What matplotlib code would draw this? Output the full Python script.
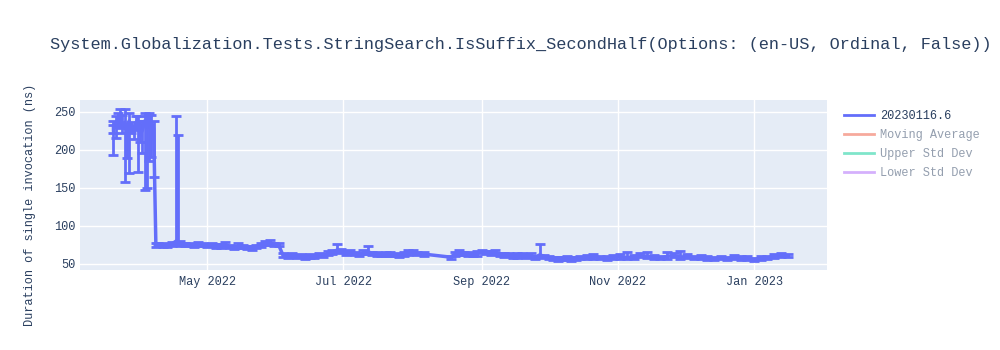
import matplotlib
matplotlib.use('Agg')
import matplotlib.pyplot as plt
import matplotlib.dates as mdates
from matplotlib.lines import Line2D
import pandas as pd

title = 'System.Globalization.Tests.StringSearch.IsSuffix_SecondHalf(Options: (en-US, Ordinal, False))'
series_name = '20230116.6'
ylabel = 'Duration of single invocation (ns)'

# early runs, high and noisy
early_dates = ['2022-03-20', '2022-03-20', '2022-03-21', '2022-03-22', '2022-03-23',
               '2022-03-24', '2022-03-25', '2022-03-26', '2022-03-27', '2022-03-28',
               '2022-03-29', '2022-03-30', '2022-03-31', '2022-04-01', '2022-04-02',
               '2022-04-03', '2022-04-04', '2022-04-05', '2022-04-06', '2022-04-07']
early_vals = [226, 230, 234, 238, 241, 232, 236, 224, 238, 228,
              222, 236, 232, 220, 226, 238, 230, 240, 236, 228]
early_down = [4, 37, 19, 8, 12, 10, 78, 35, 69, 6,
              8, 10, 61, 10, 30, 91, 80, 55, 45, 64]
early_up = [6, 8, 10, 10, 12, 14, 17, 8, 10, 8,
            10, 8, 12, 18, 12, 10, 14, 8, 10, 10]

# april to early june, around 75 ns
spring_dates = ['2022-04-08', '2022-04-09', '2022-04-11', '2022-04-13', '2022-04-15',
                '2022-04-17', '2022-04-18', '2022-04-19', '2022-04-21', '2022-04-23',
                '2022-04-25', '2022-04-27', '2022-04-29', '2022-05-01', '2022-05-03',
                '2022-05-05', '2022-05-07', '2022-05-09', '2022-05-11', '2022-05-13',
                '2022-05-15', '2022-05-17', '2022-05-19', '2022-05-21', '2022-05-23',
                '2022-05-25', '2022-05-27', '2022-05-29', '2022-05-31', '2022-06-02']
spring_vals = [74, 76, 75, 74, 76, 80, 78, 77, 76, 75,
               74, 76, 75, 74, 75, 73, 74, 76, 73, 72,
               74, 73, 72, 71, 73, 75, 77, 78, 76, 75]
spring_down = [2, 2, 3, 2, 2, 3, 2, 3, 2, 2,
               2, 3, 2, 2, 2, 2, 3, 2, 2, 2,
               3, 2, 2, 2, 2, 3, 2, 3, 2, 2]
spring_up = [3, 2, 3, 2, 3, 165, 141, 3, 2, 3,
             2, 3, 3, 2, 2, 3, 2, 3, 2, 2,
             3, 2, 2, 3, 2, 3, 3, 3, 2, 3]

# june to early august, around 63 ns
summer_dates = ['2022-06-04', '2022-06-06', '2022-06-08', '2022-06-10', '2022-06-12',
                '2022-06-14', '2022-06-16', '2022-06-18', '2022-06-20', '2022-06-22',
                '2022-06-24', '2022-06-26', '2022-06-28', '2022-06-30', '2022-07-02',
                '2022-07-04', '2022-07-06', '2022-07-08', '2022-07-10', '2022-07-12',
                '2022-07-14', '2022-07-16', '2022-07-18', '2022-07-20', '2022-07-22',
                '2022-07-24', '2022-07-26', '2022-07-28', '2022-07-30', '2022-08-01',
                '2022-08-03', '2022-08-06']
summer_vals = [61, 60, 62, 60, 61, 59, 61, 60, 62, 61,
               64, 66, 68, 67, 65, 66, 64, 63, 65, 66,
               64, 63, 62, 64, 63, 62, 61, 63, 65, 66,
               64, 63]
summer_down = [2, 2, 3, 2, 2, 2, 3, 2, 2, 2,
               2, 3, 2, 2, 3, 2, 2, 2, 2, 3,
               2, 2, 2, 3, 2, 2, 2, 2, 3, 2,
               2, 2]
summer_up = [3, 2, 3, 2, 2, 3, 2, 2, 3, 2,
             3, 3, 8, 3, 2, 3, 2, 2, 3, 8,
             2, 3, 2, 2, 3, 2, 2, 3, 3, 3,
             2, 3]

# mid august to mid january, around 58-64 ns
fall_dates = ['2022-08-18', '2022-08-20', '2022-08-22', '2022-08-24', '2022-08-26',
              '2022-08-28', '2022-08-30', '2022-09-01', '2022-09-03', '2022-09-05',
              '2022-09-07', '2022-09-09', '2022-09-11', '2022-09-13', '2022-09-15',
              '2022-09-17', '2022-09-19', '2022-09-21', '2022-09-23', '2022-09-25',
              '2022-09-27', '2022-09-29', '2022-10-01', '2022-10-03', '2022-10-05',
              '2022-10-07', '2022-10-09', '2022-10-11', '2022-10-13', '2022-10-15',
              '2022-10-18', '2022-10-21', '2022-10-24', '2022-10-27', '2022-10-30',
              '2022-11-02', '2022-11-05', '2022-11-08', '2022-11-11', '2022-11-14',
              '2022-11-17', '2022-11-20', '2022-11-23', '2022-11-26', '2022-11-29',
              '2022-12-02', '2022-12-05', '2022-12-08', '2022-12-11', '2022-12-14',
              '2022-12-17', '2022-12-20', '2022-12-23', '2022-12-26', '2022-12-29',
              '2023-01-01', '2023-01-04', '2023-01-07', '2023-01-10', '2023-01-13',
              '2023-01-16']
fall_vals = [59, 63, 65, 64, 63, 62, 64, 66, 65, 64,
             66, 63, 61, 62, 60, 61, 62, 60, 61, 59,
             62, 60, 58, 57, 56, 57, 58, 56, 57, 58,
             59, 60, 58, 57, 59, 60, 58, 59, 61, 60,
             59, 58, 60, 61, 59, 60, 58, 59, 58, 57,
             58, 57, 59, 58, 57, 56, 57, 58, 60, 62,
             61]
fall_down = [2, 2, 3, 2, 2, 2, 3, 2, 2, 2,
             3, 2, 2, 2, 2, 3, 2, 2, 2, 2,
             3, 2, 2, 2, 2, 2, 3, 2, 2, 2,
             2, 3, 2, 2, 2, 3, 2, 2, 2, 2,
             2, 2, 3, 2, 2, 2, 2, 2, 3, 2,
             2, 2, 2, 3, 2, 2, 2, 2, 2, 3,
             2]
fall_up = [2, 3, 3, 2, 3, 2, 3, 3, 2, 3,
           3, 2, 3, 2, 2, 3, 2, 2, 3, 2,
           14, 2, 3, 2, 3, 2, 2, 3, 2, 3,
           3, 3, 2, 3, 3, 3, 8, 3, 3, 6,
           3, 2, 6, 3, 8, 3, 2, 3, 3, 2,
           3, 2, 3, 2, 3, 2, 3, 3, 3, 3,
           2]

dates = pd.to_datetime(early_dates + spring_dates + summer_dates + fall_dates)
vals = early_vals + spring_vals + summer_vals + fall_vals
err_down = early_down + spring_down + summer_down + fall_down
err_up = early_up + spring_up + summer_up + fall_up

legend_labels = ['Moving Average', 'Upper Std Dev', 'Lower Std Dev']
legend_colors = ['#EF553B', '#00CC96', '#AB63FA']

mono = 'Liberation Mono'
text_col = '#2a3f5f'


def main():
    fig = plt.figure(figsize=(10, 3.5), dpi=100)
    ax = fig.add_axes([0.08, 1 - 270 / 350, 0.747, 170 / 350])
    ax.set_facecolor('#E5ECF6')
    for s in ax.spines.values():
        s.set_visible(False)

    ax.errorbar(dates, vals, yerr=[err_down, err_up], fmt='-', color='#636EFA',
                lw=2.5, elinewidth=2, capsize=3.5, capthick=2, ecolor='#636EFA', zorder=3)

    ax.set_xlim(pd.Timestamp('2022-03-05'), pd.Timestamp('2023-02-02 16:00'))
    ax.set_ylim(42.1, 265.4)
    ax.set_yticks([50, 100, 150, 200, 250])
    ax.set_xticks(pd.to_datetime(['2022-05-01', '2022-07-01', '2022-09-01',
                                  '2022-11-01', '2023-01-01']))
    ax.xaxis.set_major_formatter(mdates.DateFormatter('%b %Y'))
    ax.grid(True, color='white', lw=1, zorder=0)
    ax.set_axisbelow(True)
    ax.tick_params(length=0, labelsize=8.6, labelcolor=text_col)
    ax.tick_params(axis='x', pad=4)
    ax.tick_params(axis='y', pad=3)
    for lab in ax.get_xticklabels() + ax.get_yticklabels():
        lab.set_family(mono)

    fig.text(0.05, 1 - 45 / 350, title, family=mono, fontsize=12.2,
             color=text_col, va='center', ha='left')
    fig.text(0.03, 1 - 205 / 350, ylabel, family=mono, fontsize=8.6,
             color=text_col, rotation=90, va='center', ha='center')

    handles = [Line2D([], [], color='#636EFA', lw=2)]
    handles += [Line2D([], [], color=c, lw=2, alpha=0.5) for c in legend_colors]
    leg = fig.legend(handles, [series_name] + legend_labels, loc='upper left',
                     bbox_to_anchor=(0.844, 1 - 110 / 350), frameon=False,
                     borderpad=0, borderaxespad=0, handlelength=2.5,
                     handletextpad=0.5, labelspacing=0.6,
                     prop={'family': mono, 'size': 8.6})
    for i, t in enumerate(leg.get_texts()):
        t.set_color(text_col)
        if i > 0:
            t.set_alpha(0.5)

    fig.savefig('out.png', dpi=100)


if __name__ == '__main__':
    main()
